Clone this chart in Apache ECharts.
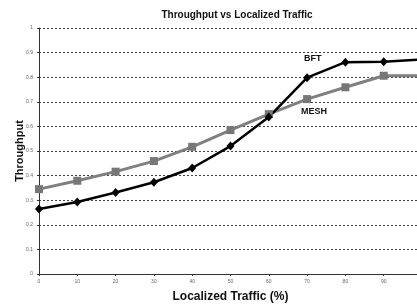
<!DOCTYPE html>
<html>
<head>
<meta charset="utf-8">
<script src="https://cdn.jsdelivr.net/npm/echarts@6/dist/echarts.min.js"></script>
<style>
  html, body { margin: 0; padding: 0; background: #fff; }
  #chart { width: 417px; height: 304px; }
</style>
</head>
<body>
<div id="chart"></div>
<script>
// x values (localized traffic %)
const traffic = [0, 10, 20, 30, 40, 50, 60, 70, 80, 90, 100];
const bft = [0.264, 0.293, 0.331, 0.373, 0.431, 0.520, 0.638, 0.798, 0.861, 0.863, 0.872];
const mesh = [0.345, 0.379, 0.416, 0.459, 0.517, 0.585, 0.650, 0.711, 0.759, 0.806, 0.806];
const yTicks = [0, 0.1, 0.2, 0.3, 0.4, 0.5, 0.6, 0.7, 0.8, 0.9, 1];

const pairs = (ys) => traffic.map((x, i) => [x, ys[i]]);

const myChart = echarts.init(document.getElementById('chart'));
myChart.setOption({
  animation: false,
  title: {
    text: 'Throughput vs Localized Traffic',
    left: 232,
    top: 5,
    textAlign: 'center',
    textStyle: { fontFamily: 'Liberation Sans', fontSize: 10, fontWeight: 'bold', color: '#111' }
  },
  grid: { left: 39, right: -5, top: 28, bottom: 30, outerBoundsMode: 'none', containLabel: false },
  xAxis: {
    type: 'value',
    min: 0, max: 100, interval: 10,
    name: 'Localized Traffic (%)',
    nameLocation: 'middle',
    nameGap: 17,
    nameMoveOverlap: false,
    nameTextStyle: { fontFamily: 'Liberation Sans', fontSize: 12, fontWeight: 'bold', color: '#111' },
    axisLine: { lineStyle: { color: '#333', width: 1 } },
    axisTick: { length: 2, lineStyle: { color: '#333' } },
    axisLabel: { fontSize: 5, color: '#666', margin: 5, fontFamily: 'Liberation Sans' },
    splitLine: { show: false }
  },
  yAxis: {
    type: 'value',
    min: 0, max: 1, interval: 0.1,
    name: 'Throughput',
    nameLocation: 'middle',
    nameGap: 14,
    nameMoveOverlap: false,
    nameTextStyle: { fontFamily: 'Liberation Sans', fontSize: 11, fontWeight: 'bold', color: '#111' },
    axisLine: { show: true, lineStyle: { color: '#333', width: 1 } },
    axisTick: { show: true, length: 2, lineStyle: { color: '#333' } },
    axisLabel: {
      fontSize: 5, color: '#666', margin: 6, fontFamily: 'Liberation Sans',
      formatter: v => yTicks.includes(+v.toFixed(1)) ? String(+v.toFixed(1)) : ''
    },
    splitLine: { show: true, lineStyle: { color: '#444', type: [2, 2], width: 1 } }
  },
  graphic: [
    { type: 'text', left: 304, top: 54, style: { text: 'BFT', font: 'bold 9px "Liberation Sans"', fill: '#111' } },
    { type: 'text', left: 301, top: 107, style: { text: 'MESH', font: 'bold 9px "Liberation Sans"', fill: '#111' } }
  ],
  series: [
    {
      name: 'MESH',
      type: 'line',
      data: pairs(mesh),
      symbol: 'rect',
      symbolSize: 8,
      lineStyle: { color: '#808080', width: 3 },
      itemStyle: { color: '#777' }
    },
    {
      name: 'BFT',
      type: 'line',
      data: pairs(bft),
      symbol: 'diamond',
      symbolSize: [8, 9],
      lineStyle: { color: '#000', width: 2.5 },
      itemStyle: { color: '#000' }
    }
  ]
});
</script>
</body>
</html>
